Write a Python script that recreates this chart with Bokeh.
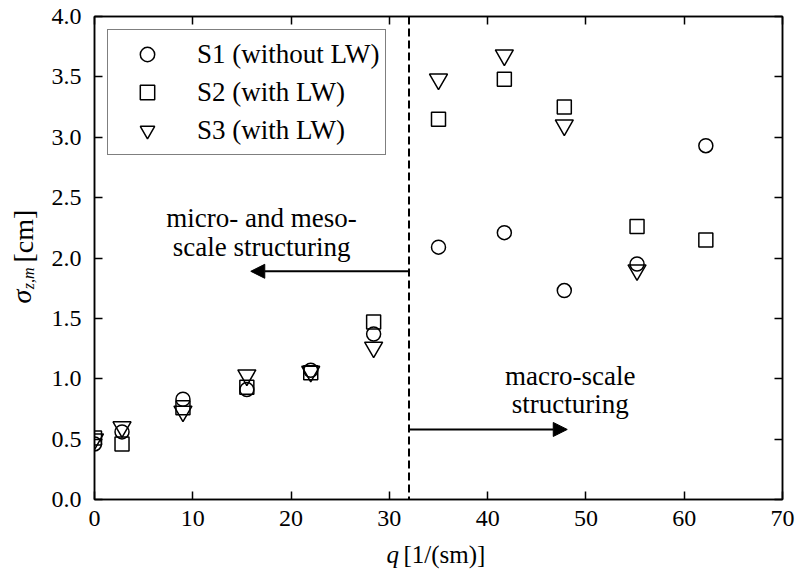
import math
from bokeh.plotting import figure
from bokeh.layouts import row, column
from bokeh.models import (Label, Arrow, NormalHead, Span, LinearAxis, FixedTicker,
                          NumeralTickFormatter, Range1d)
from bokeh.embed import file_html
from bokeh.resources import INLINE

# ---------------- data ----------------
q_s1 = [0.0, 2.8, 9.0, 15.5, 22.0, 28.4, 35.0, 41.7, 47.8, 55.2, 62.2]
sigma_s1 = [0.46, 0.56, 0.83, 0.91, 1.07, 1.37, 2.09, 2.21, 1.73, 1.95, 2.93]

q_s2 = [0.0, 2.8, 9.0, 15.5, 22.0, 28.4, 35.0, 41.7, 47.8, 55.2, 62.2]
sigma_s2 = [0.51, 0.46, 0.76, 0.93, 1.05, 1.47, 3.15, 3.48, 3.25, 2.26, 2.15]

q_s3 = [0.0, 2.8, 9.0, 15.5, 22.0, 28.4, 35.0, 41.7, 47.8, 55.2]
sigma_s3 = [0.50, 0.60, 0.73, 1.03, 1.06, 1.26, 3.48, 3.68, 3.10, 1.90]

series_labels = ["S1 (without LW)", "S2 (with LW)", "S3 (with LW)"]
x_ticks = [0, 10, 20, 30, 40, 50, 60, 70]
y_ticks = [0.0, 0.5, 1.0, 1.5, 2.0, 2.5, 3.0, 3.5, 4.0]

boundary_q = 32.0
micro_arrow_end_q = 15.9
micro_arrow_sigma = 1.89
macro_arrow_end_q = 48.1
macro_arrow_sigma = 0.58

SERIF = "Liberation Serif"

YT_W = 46          # width of the strip holding the y-axis title
MAIN_W = 797 - YT_W
MAIN_H = 540
XT_H = 572 - MAIN_H

p = figure(width=MAIN_W, height=MAIN_H, x_range=Range1d(0, 70), y_range=Range1d(0, 4),
           output_backend="svg", toolbar_location=None,
           min_border_left=94 - YT_W, min_border_right=15, min_border_top=16,
           min_border_bottom=MAIN_H - 499)
p.background_fill_color = "white"
p.border_fill_color = "white"
p.outline_line_color = "black"
p.outline_line_width = 1.5
p.xgrid.visible = False
p.ygrid.visible = False

p.xaxis.ticker = FixedTicker(ticks=x_ticks)
p.yaxis.ticker = FixedTicker(ticks=y_ticks)
p.yaxis.formatter = NumeralTickFormatter(format="0.0")
p.xaxis.major_label_standoff = 11
p.yaxis.major_label_standoff = 13

top_ax = LinearAxis(ticker=FixedTicker(ticks=x_ticks))
p.add_layout(top_ax, "above")
right_ax = LinearAxis(ticker=FixedTicker(ticks=y_ticks))
p.add_layout(right_ax, "right")

for ax in p.axis:
    ax.axis_line_color = "black"
    ax.axis_line_width = 1.5
    ax.major_tick_line_color = "black"
    ax.major_tick_line_width = 1.5
    ax.major_tick_in = 8
    ax.major_tick_out = 0
    ax.minor_tick_line_color = None
    ax.major_label_text_font = SERIF
    ax.major_label_text_font_size = "24px"
    ax.major_label_text_color = "black"

for ax in (top_ax, right_ax):
    ax.major_label_text_font_size = "0px"
    ax.major_label_text_alpha = 0
    ax.major_label_standoff = 0

# divider and arrows
p.add_layout(Span(location=boundary_q, dimension="height", line_color="black",
                  line_width=2, line_dash="8 4"))
p.add_layout(Arrow(end=NormalHead(size=14, fill_color="black", line_color="black"),
                   x_start=boundary_q, y_start=micro_arrow_sigma,
                   x_end=micro_arrow_end_q, y_end=micro_arrow_sigma,
                   line_color="black", line_width=2))
p.add_layout(Arrow(end=NormalHead(size=14, fill_color="black", line_color="black"),
                   x_start=boundary_q, y_start=macro_arrow_sigma,
                   x_end=macro_arrow_end_q, y_end=macro_arrow_sigma,
                   line_color="black", line_width=2))

# data
kw = dict(fill_color="white", fill_alpha=0, line_color="black", line_width=1.5)
p.scatter(q_s1, sigma_s1, marker="circle", size=14, legend_label=series_labels[0], **kw)
p.scatter(q_s2, sigma_s2, marker="square", size=14, legend_label=series_labels[1], **kw)
p.scatter(q_s3, sigma_s3, marker="inverted_triangle", size=18, legend_label=series_labels[2], **kw)

leg = p.legend[0]
leg.location = "top_left"
leg.margin = 13
leg.padding = 6
leg.spacing = 2
leg.glyph_width = 66
leg.glyph_height = 36
leg.label_height = 36
leg.label_standoff = 17
leg.label_text_font = SERIF
leg.label_text_font_size = "27px"
leg.label_text_color = "black"
leg.border_line_color = "black"
leg.border_line_width = 1.5
leg.background_fill_alpha = 1


def add_text(fig, x, y, text, size="27px", style="normal", align="left", angle=0.0):
    fig.add_layout(Label(x=x, y=y, text=text, text_font=SERIF, text_font_size=size,
                         text_font_style=style, text_align=align,
                         text_baseline="alphabetic", text_color="black", angle=angle))

add_text(p, 17.0, 2.335, "micro- and meso-", align="center")
add_text(p, 17.0, 2.095, "scale structuring", align="center")
add_text(p, 48.4, 1.02, "macro-scale", align="center")
add_text(p, 48.4, 0.79, "structuring", align="center")


def title_strip(w, h):
    f = figure(width=w, height=h, x_range=Range1d(0, w), y_range=Range1d(h, 0),
               x_axis_type=None, y_axis_type=None, output_backend="svg",
               toolbar_location=None, min_border=0)
    f.outline_line_color = None
    f.background_fill_color = "white"
    f.border_fill_color = "white"
    return f

# y-axis title: sigma_{z,m} [cm]
yt = title_strip(YT_W, MAIN_H)
add_text(yt, 20.6, 321, "σ", size="28px", style="italic", angle=math.pi / 2)
add_text(yt, 28.2, 305, "z,m", size="16px", style="italic", angle=math.pi / 2)
add_text(yt, 22.6, 275, "[cm]", size="28px", angle=math.pi / 2)

# x-axis title: q [1/(sm)]
xt = title_strip(797, XT_H)
add_text(xt, 386, 22 - 8.4, "q", size="25px", style="italic")
add_text(xt, 403, 22 - 8.4, "[1/(sm)]", size="25px")

layout = column(row(yt, p), xt)
open("out.html", "w").write(file_html(layout, INLINE))
